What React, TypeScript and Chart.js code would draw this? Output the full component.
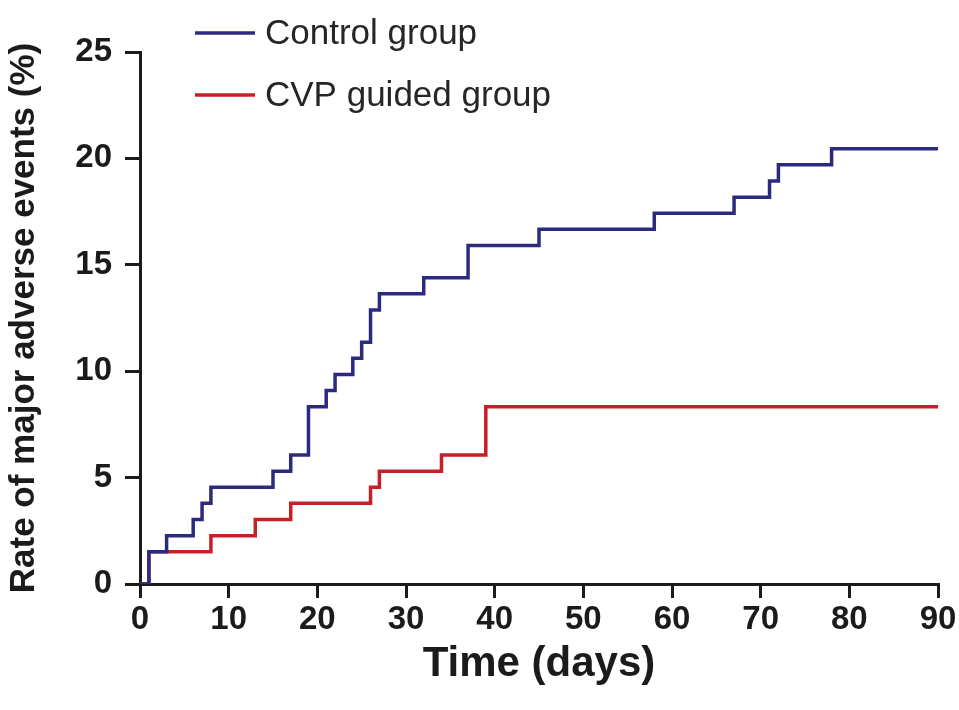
import React, { useEffect, useRef } from "react";
import { Chart, registerables } from "chart.js";

Chart.register(...registerables);

// Kaplan–Meier style cumulative event rates (%) by day
const controlDays = [0, 1, 3, 6, 7, 8, 15, 17, 19, 21, 22, 24, 25, 26, 27, 32, 37, 45, 58, 67, 71, 72, 78, 90];
const controlRates = [0, 1.52, 2.27, 3.03, 3.79, 4.55, 5.3, 6.06, 8.33, 9.09, 9.85, 10.61, 11.36, 12.88, 13.64, 14.39, 15.91, 16.67, 17.42, 18.18, 18.94, 19.7, 20.45, 20.45];

const cvpDays = [0, 1, 8, 13, 17, 26, 27, 34, 39, 90];
const cvpRates = [0, 1.52, 2.27, 3.03, 3.79, 4.55, 5.3, 6.06, 8.33, 8.33];

const seriesLabels = ["Control group", "CVP guided group"];
const seriesColors = ["#2b2a7f", "#c42026"];

const xTicks = [0, 10, 20, 30, 40, 50, 60, 70, 80, 90];
const yTicks = [0, 5, 10, 15, 20, 25];

const FONT = "'Liberation Sans', Arial, Helvetica, sans-serif";
const INK = "#1b1b1b";

const toPoints = (xs: number[], ys: number[]) => xs.map((x, i) => ({ x, y: ys[i] }));

// Legend drawn as two stacked rows at the top-left of the plot
const stackedLegend = {
  id: "stackedLegend",
  afterDraw(chart: any) {
    const { ctx } = chart;
    ctx.save();
    chart.data.datasets.forEach((ds: any, i: number) => {
      const y = 33 + i * 62;
      ctx.strokeStyle = ds.borderColor;
      ctx.lineWidth = 3.5;
      ctx.beginPath();
      ctx.moveTo(195, y);
      ctx.lineTo(255, y);
      ctx.stroke();
      ctx.fillStyle = "#262626";
      ctx.font = `35px ${FONT}`;
      ctx.textBaseline = "middle";
      ctx.textAlign = "left";
      ctx.fillText(ds.label, 265, y + 1);
    });
    ctx.restore();
  },
};

export default function App() {
  const canvasRef = useRef<HTMLCanvasElement | null>(null);

  useEffect(() => {
    const canvas = canvasRef.current;
    if (!canvas) return;
    const chart = new Chart(canvas, {
      type: "line",
      data: {
        datasets: [
          {
            label: seriesLabels[0],
            data: toPoints(controlDays, controlRates),
            borderColor: seriesColors[0],
            borderWidth: 3.5,
            stepped: true,
            pointRadius: 0,
            fill: false,
          },
          {
            label: seriesLabels[1],
            data: toPoints(cvpDays, cvpRates),
            borderColor: seriesColors[1],
            borderWidth: 3.5,
            stepped: true,
            pointRadius: 0,
            fill: false,
          },
        ],
      },
      options: {
        animation: false,
        responsive: false,
        maintainAspectRatio: false,
        layout: { padding: { left: 0, right: 21, top: 52, bottom: 0 } },
        plugins: {
          legend: { display: false },
          tooltip: { enabled: false },
        },
        scales: {
          x: {
            type: "linear",
            min: 0,
            max: 90,
            afterBuildTicks: (scale: any) => {
              scale.ticks = xTicks.map((v) => ({ value: v }));
            },
            afterFit: (scale: any) => {
              scale.height = 126;
            },
            border: { display: true, color: INK, width: 3 },
            grid: { drawOnChartArea: false, drawTicks: true, tickLength: 14, color: INK, lineWidth: 3 },
            ticks: {
              color: INK,
              padding: 2,
              maxRotation: 0,
              autoSkip: false,
              font: { family: FONT, size: 33, weight: "bold" },
            },
            title: {
              display: true,
              text: "Time (days)",
              color: INK,
              font: { family: FONT, size: 42, weight: "bold" },
              padding: { top: 0, bottom: 20 },
            },
          },
          y: {
            type: "linear",
            min: 0,
            max: 25,
            afterBuildTicks: (scale: any) => {
              scale.ticks = yTicks.map((v) => ({ value: v }));
            },
            afterFit: (scale: any) => {
              scale.width = 140;
            },
            border: { display: true, color: INK, width: 3 },
            grid: { drawOnChartArea: false, drawTicks: true, tickLength: 15, color: INK, lineWidth: 3 },
            ticks: {
              color: INK,
              padding: 13,
              autoSkip: false,
              font: { family: FONT, size: 33, weight: "bold" },
            },
            title: {
              display: true,
              text: "Rate of major adverse events (%)",
              color: INK,
              font: { family: FONT, size: 35, weight: "bold" },
              padding: { top: 3, bottom: 0 },
            },
          },
        },
      },
      plugins: [stackedLegend],
    } as any);
    return () => chart.destroy();
  }, []);

  return (
    <div style={{ position: "fixed", left: 0, top: 0, width: 959, height: 710, background: "#fff" }}>
      <canvas ref={canvasRef} width={959} height={710} style={{ display: "block" }} />
    </div>
  );
}
